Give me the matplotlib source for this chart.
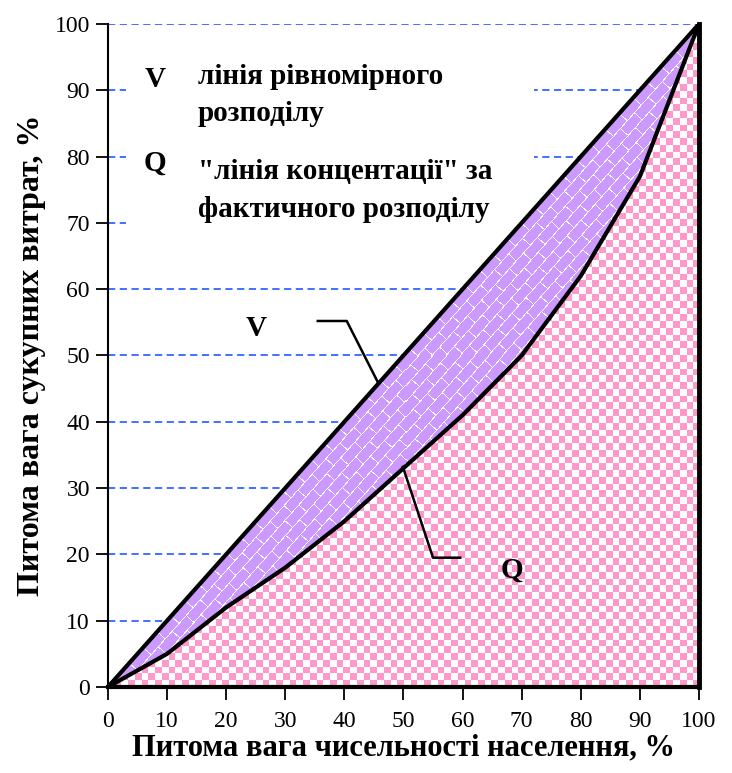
import numpy as np
import matplotlib
matplotlib.use('Agg')
from matplotlib import pyplot as plt
from matplotlib.patches import Polygon, Rectangle

# Дані кривої Лоренца
share_pop = [0, 10, 20, 30, 40, 50, 60, 70, 80, 90, 100]
share_exp_uniform = [0, 10, 20, 30, 40, 50, 60, 70, 80, 90, 100]
share_exp_actual = [0, 5, 12, 18, 25, 33, 41, 50, 62, 77, 100]
ticks = [0, 10, 20, 30, 40, 50, 60, 70, 80, 90, 100]

x_label = 'Питома вага чисельності населення, %'
y_label = 'Питома вага сукупних витрат, %'
legend_v = 'лінія рівномірного\nрозподілу'
legend_q = '"лінія концентації" за\nфактичного розподілу'

GRID = '#3366ff'


def checker_texture(nx, ny):
    i, j = np.indices((ny, nx))
    pink = np.array([255, 153, 204]) / 255.0
    img = np.ones((ny, nx, 3))
    img[(i + j) % 2 == 0] = pink
    return img


def brick_texture(w, h, row=10.5, length=21.0, lw=0.9):
    py, px = np.indices((h, w)).astype(float)
    py = h - py
    ang = np.arctan2(h, w)
    u = px * np.cos(ang) + py * np.sin(ang)
    v = -px * np.sin(ang) + py * np.cos(ang)
    r = np.floor(v / row)
    off = (r % 2) * length / 2
    line = ((v % row) < lw) | (((u + off) % length) < lw)
    img = np.ones((h, w, 3))
    img[~line] = np.array([204, 153, 255]) / 255.0
    return img


def main():
    plt.rcParams['font.family'] = ['Liberation Serif', 'DejaVu Serif']
    fig = plt.figure(figsize=(7.32, 7.73), dpi=100)
    ax = fig.add_axes([0.1475, 0.1113, 0.8074, 0.8577])

    ax.set_xlim(0, 100)
    ax.set_ylim(0, 100)

    # сітка
    ax.set_axisbelow(True)
    ax.yaxis.grid(True, linestyle=(0, (4, 2.5)), color=GRID, lw=1.3)
    ax.xaxis.grid(False)
    ax.add_patch(Rectangle((3, 68), 69, 29.5, facecolor='white',
                           edgecolor='none', zorder=1.5))

    x = np.array(share_pop, dtype=float)
    v = np.array(share_exp_uniform, dtype=float)
    q = np.array(share_exp_actual, dtype=float)

    # область під Q (клітинка)
    poly_q = Polygon(np.column_stack([np.r_[x, 100, 0], np.r_[q, 0, 0]]),
                     closed=True, facecolor='none', edgecolor='none')
    ax.add_patch(poly_q)
    im1 = ax.imshow(checker_texture(88, 98), extent=[0, 100, 0, 100],
                    interpolation='nearest', aspect='auto', zorder=2)
    im1.set_clip_path(poly_q)

    # область між V і Q (цеглинки)
    poly_vq = Polygon(np.column_stack([np.r_[x, x[::-1]], np.r_[v, q[::-1]]]),
                      closed=True, facecolor='none', edgecolor='none')
    ax.add_patch(poly_vq)
    im2 = ax.imshow(brick_texture(591, 663), extent=[0, 100, 0, 100],
                    interpolation='nearest', aspect='auto', zorder=2)
    im2.set_clip_path(poly_vq)

    ax.plot(x, v, color='black', lw=3, zorder=3)
    ax.plot(x, q, color='black', lw=3, zorder=3)

    # виноски
    ax.plot([35.5, 40.4, 45.7], [55.2, 55.2, 45.9], color='black', lw=1.8, zorder=3)
    ax.plot([59.6, 55.0, 49.9], [19.5, 19.5, 33.2], color='black', lw=1.8, zorder=3)
    ax.text(25, 54, 'V', fontsize=21, fontweight='bold', ha='center', va='center', zorder=4)
    ax.text(68.4, 17.6, 'Q', fontsize=21, fontweight='bold', ha='center', va='center', zorder=4)

    # легенда
    ax.text(8, 91.6, 'V', fontsize=21, fontweight='bold', ha='center', va='center', zorder=4)
    ax.text(15.2, 89.3, legend_v, fontsize=21, fontweight='bold', ha='left', va='center',
            linespacing=1.5, zorder=4)
    ax.text(8, 79.0, 'Q', fontsize=21, fontweight='bold', ha='center', va='center', zorder=4)
    ax.text(15.2, 74.9, legend_q, fontsize=21, fontweight='bold', ha='left', va='center',
            linespacing=1.5, zorder=4)

    ax.set_xticks(ticks)
    ax.set_yticks(ticks)
    ax.tick_params(axis='both', direction='out', length=9, width=1.3, labelsize=17, pad=4)
    ax.tick_params(axis='x', pad=8)

    ax.spines['top'].set_visible(False)
    ax.spines['left'].set_linewidth(1.5)
    ax.spines['bottom'].set_linewidth(3)
    ax.spines['right'].set_linewidth(3.5)
    for s in ax.spines.values():
        s.set_zorder(3.5)

    ax.set_xlabel(x_label, fontsize=22, fontweight='bold', labelpad=1)
    ax.set_ylabel(y_label, fontsize=23, fontweight='bold', labelpad=6)

    fig.savefig('out.png', dpi=100)


if __name__ == '__main__':
    main()
